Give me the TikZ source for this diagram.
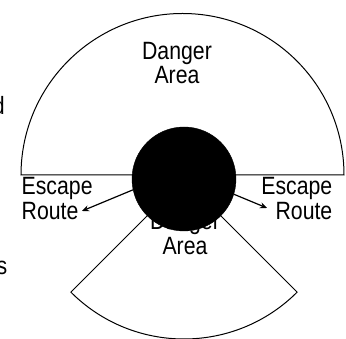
\documentclass[tikz,border=0pt]{standalone}
\usepackage{fontspec}
\setmainfont{Liberation Sans}
\usetikzlibrary{arrows.meta}
\newcommand\nx[1]{\scalebox{0.85}[1]{#1}}
\tikzset{
  x=1pt, y=1pt,
  outline/.style={draw=black, line width=1pt, fill=white},
  lbl/.style={font=\fontsize{25}{27}\selectfont, inner sep=0pt, text=black},
  route/.style={draw=black, line width=1.2pt, -{Stealth[length=7pt,width=6pt]}},
}
\begin{document}
\begin{tikzpicture}
\useasboundingbox (0,0) rectangle (346,339);
% upper danger area (half disc)
\draw[outline] (21,164) -- (344,164) arc[start angle=0, end angle=180, radius=161.5] -- cycle;
% lower danger area (sector)
\coordinate (ctr) at (184,160);
\draw[outline] (ctr) -- ++(-135:160) arc[start angle=-135, end angle=-45, radius=160] -- cycle;
% labels
\node[lbl, anchor=base] (dtop) at (177,279.7) {\nx{Danger}};
\node[lbl, anchor=base] (atop) at (177,255) {\nx{Area}};
\node[lbl, anchor=base] (dbot) at (185,109) {\nx{Danger}};
\node[lbl, anchor=base] (abot) at (185,84) {\nx{Area}};
\node[lbl, anchor=base west] (el) at (21.5,144.7) {\nx{Escape}};
\node[lbl, anchor=base west] (rl) at (21.5,119) {\nx{Route}};
\node[lbl, anchor=base east] (er) at (332.5,144.5) {\nx{Escape}};
\node[lbl, anchor=base east] (rr) at (332.5,119) {\nx{Route}};
\node[lbl, anchor=base east] (fd) at (5,224) {\nx{d}};
\node[lbl, anchor=base east] (fs) at (7.5,64) {\nx{s}};
% hazard
\node[circle, fill=black, draw=black, minimum size=104pt, inner sep=0pt] (haz) at (ctr) {};
\coordinate (lend) at (82,128);
\coordinate (rend) at (267,131);
\draw[route] (haz.192) -- (lend);
\draw[route] (haz.-17) -- (rend);
\end{tikzpicture}
\end{document}
